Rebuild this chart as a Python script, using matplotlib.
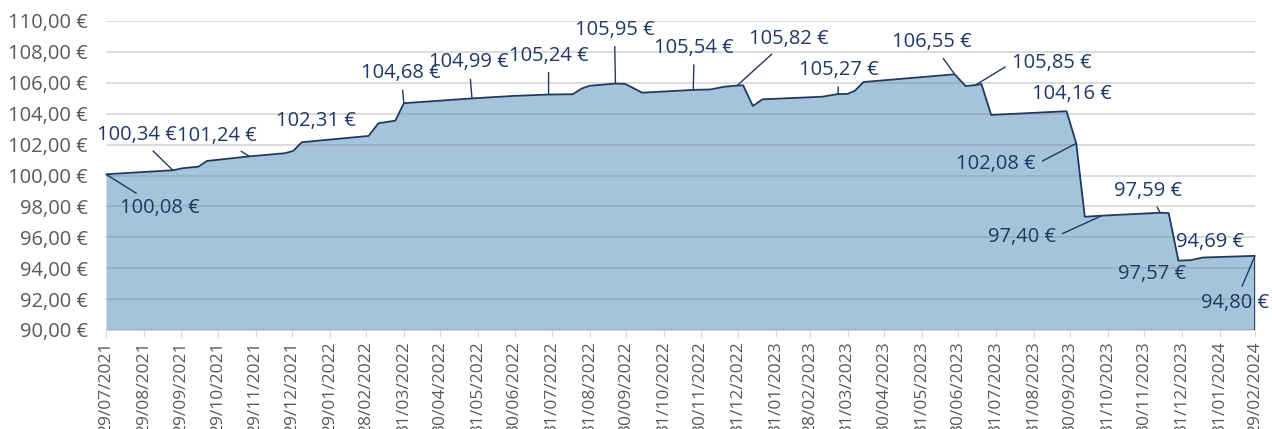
import matplotlib
matplotlib.use("Agg")
import matplotlib.pyplot as plt
import matplotlib.dates as mdates
import pandas as pd

# price series
dates = ["2021-07-29", "2021-09-22", "2021-09-30", "2021-10-13", "2021-10-20",
         "2021-11-24", "2021-12-23", "2021-12-30", "2022-01-06", "2022-01-27",
         "2022-03-02", "2022-03-10", "2022-03-24", "2022-03-31", "2022-05-26",
         "2022-06-29", "2022-07-28", "2022-08-17", "2022-08-24", "2022-08-31",
         "2022-09-21", "2022-09-29", "2022-10-13", "2022-11-24", "2022-12-08",
         "2022-12-20", "2022-12-30", "2023-01-04", "2023-01-12", "2023-01-20",
         "2023-03-10", "2023-03-23", "2023-03-31", "2023-04-06", "2023-04-13",
         "2023-06-27", "2023-07-06", "2023-07-14", "2023-07-19", "2023-07-27",
         "2023-09-27", "2023-10-05", "2023-10-12", "2023-10-26", "2023-12-13",
         "2023-12-20", "2023-12-28", "2024-01-07", "2024-01-17", "2024-02-29"]
values = [100.08, 100.34, 100.47, 100.57, 100.94,
          101.24, 101.44, 101.59, 102.15, 102.31,
          102.56, 103.38, 103.55, 104.68, 104.99,
          105.15, 105.24, 105.26, 105.62, 105.81,
          105.95, 105.93, 105.36, 105.54, 105.57,
          105.75, 105.82, 105.84, 104.50, 104.93,
          105.10, 105.27, 105.28, 105.49, 106.05,
          106.55, 105.79, 105.85, 105.92, 103.92,
          104.16, 102.08, 97.33, 97.40, 97.59,
          97.57, 94.49, 94.52, 94.69, 94.80]

# which points carry a label
label_dates = ["2021-07-29", "2021-09-22", "2021-11-24", "2022-01-27", "2022-03-31",
               "2022-05-26", "2022-07-28", "2022-09-21", "2022-11-24", "2022-12-30",
               "2023-03-23", "2023-06-27", "2023-07-14", "2023-09-27", "2023-10-05",
               "2023-10-26", "2023-12-13", "2023-12-20", "2024-01-17", "2024-02-29"]

tick_labels = ["29/07/2021", "29/08/2021", "29/09/2021", "29/10/2021", "29/11/2021",
               "29/12/2021", "29/01/2022", "28/02/2022", "31/03/2022", "30/04/2022",
               "31/05/2022", "30/06/2022", "31/07/2022", "31/08/2022", "30/09/2022",
               "31/10/2022", "30/11/2022", "31/12/2022", "31/01/2023", "28/02/2023",
               "31/03/2023", "30/04/2023", "31/05/2023", "30/06/2023", "31/07/2023",
               "31/08/2023", "30/09/2023", "31/10/2023", "30/11/2023", "31/12/2023",
               "31/01/2024", "29/02/2024"]

# label placement: (dx, dy) in pixels, whether to draw leader, leader start on text box
label_layout = [(54, -34, True, (0.5, 0.5)), (-36, 35, True, (0.5, 0.5)),
                (-33, 20, True, (0.5, 0.5)), (-11, 19, False, None),
                (-3, 30, True, (0.5, 0.5)), (-3, 36, True, (0.5, 0.5)),
                (0, 39, True, (0.5, 0.5)), (-1, 54, True, (0.5, 0.5)),
                (1, 42, True, (0.5, 0.5)), (52, 47, True, (0.5, 0.5)),
                (1, 24, True, (0.5, 0.5)), (-23, 32, True, (0.5, 0.5)),
                (76, 22, True, (0.0, 0.5)), (5, 17, False, None),
                (-80, -21, True, (1.0, 0.5)), (-80, -21, True, (1.0, 0.5)),
                (-12, 22, True, (0.5, 0.5)), (-17, -61, False, None),
                (7, 16, False, None), (-20, -47, True, (0.5, 0.5))]

navy = "#1f3864"
fill = "#a3c4d9"
grey_txt = "#595959"

x = pd.to_datetime(dates)
lx = pd.to_datetime(label_dates)
val_map = dict(zip(x, values))

plt.rcParams['font.family'] = ['Open Sans', 'DejaVu Sans']

fig = plt.figure(figsize=(12.72, 4.29), dpi=100)
ax = fig.add_axes([106 / 1272, 1 - 330 / 429, 1149 / 1272, 309 / 429])

ax.fill_between(x, values, 90, color=fill, lw=0, zorder=1)
ax.plot(x, values, color=navy, lw=1.3, zorder=3)
ax.vlines(x[-1], 90, values[-1], color=navy, lw=1.3, zorder=3)

ax.set_ylim(90, 110)
ax.set_xlim(x[0], x[-1])
ax.set_yticks(range(90, 111, 2))
ax.set_yticklabels([f"{v},00 €" for v in range(90, 111, 2)])
ax.yaxis.grid(True, color="#808080", alpha=0.3, lw=1.3, zorder=2)
ax.set_axisbelow(False)

ticks = pd.to_datetime(tick_labels, format="%d/%m/%Y")
ax.set_xticks(ticks)
ax.set_xticklabels(tick_labels, rotation=90)

for s in ["left", "right", "top"]:
    ax.spines[s].set_visible(False)
ax.spines["bottom"].set_color("#d9d9d9")
ax.tick_params(axis="y", length=0, labelsize=14.5, labelcolor=grey_txt, pad=13)
ax.tick_params(axis="x", length=5, color="#d9d9d9", labelsize=12.5,
               labelcolor=grey_txt, pad=3)

for d, (dx, dy, leader, rel) in zip(lx, label_layout):
    v = val_map[d]
    txt = f"{v:.2f} €".replace(".", ",")
    props = None
    if leader:
        props = dict(arrowstyle="-", color=navy, lw=1.0, relpos=rel,
                     shrinkA=3, shrinkB=0)
    ax.annotate(txt, xy=(mdates.date2num(d), v), xytext=(dx, dy),
                textcoords="offset pixels", ha="center", va="center",
                fontsize=14.5, color=navy, arrowprops=props, zorder=5,
                annotation_clip=False)

fig.savefig("out.png", dpi=100)
